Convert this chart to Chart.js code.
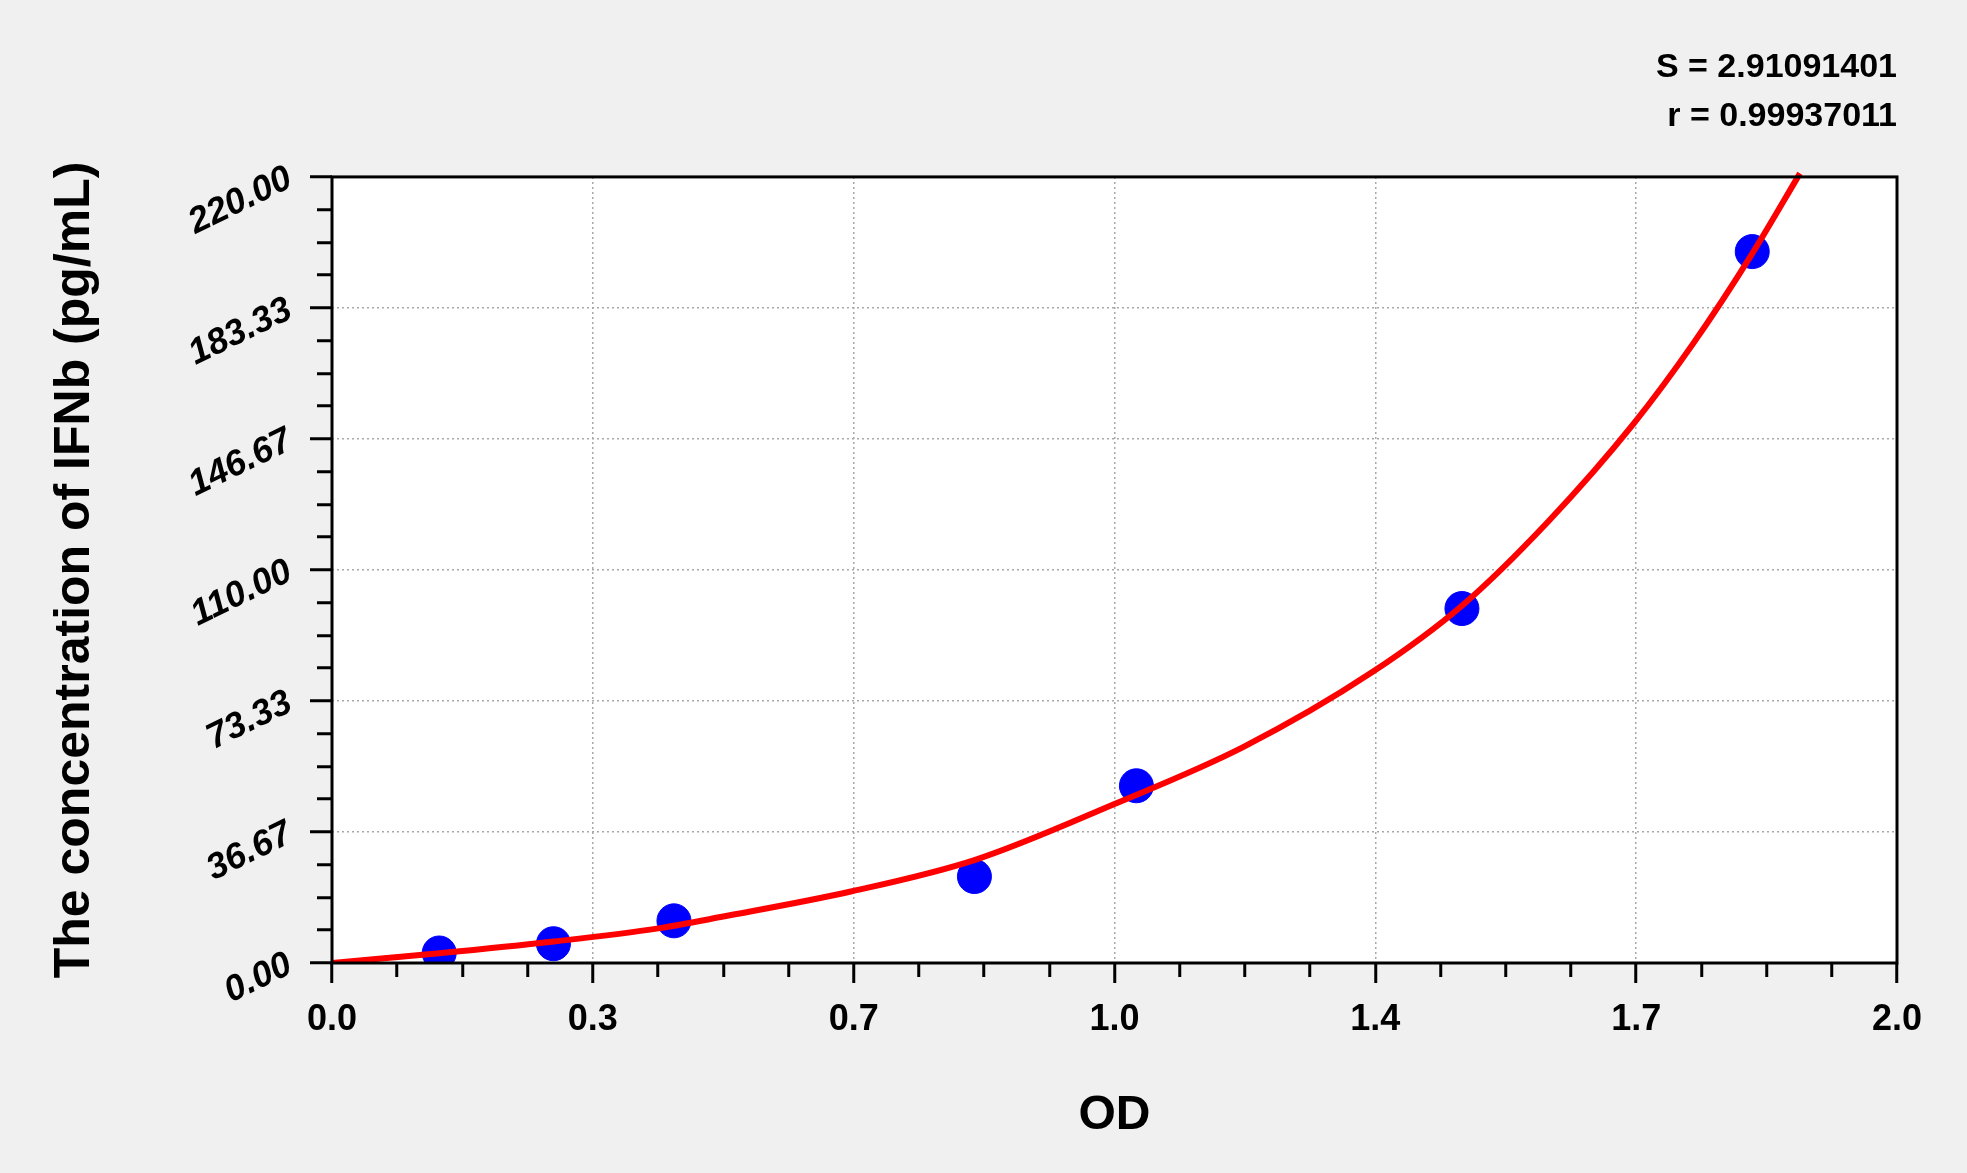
<html>
<head>
  <meta charset="UTF-8">
  <script src="https://cdn.jsdelivr.net/npm/chart.js@4.4.1/dist/chart.umd.min.js"></script>
  <style> body {padding: 0; margin: 0; background: #f0f0f0;} </style>
</head>

<body>

<canvas id="myChart" width="1967" height="1173"></canvas>

<script>

// standards (blue dots)
var stdOD   = [0.137, 0.283, 0.437, 0.821, 1.028, 1.444, 1.815];
var stdConc = [2.8, 5.4, 11.8, 24.2, 49.6, 99.2, 199.1];

// fitted curve (red line)
var fitOD   = [0.000, 0.137, 0.283, 0.417, 0.500, 0.663, 0.821, 1.000, 1.165, 1.330, 1.444, 1.554, 1.664, 1.739, 1.814, 1.876];
var fitConc = [0.0, 2.7, 6.0, 9.7, 13.0, 20.0, 28.8, 44.5, 60.5, 81.5, 100.0, 123.5, 151.1, 173.2, 198.2, 221.0];

var xTickLabels = ['0.0', '0.3', '0.7', '1.0', '1.4', '1.7', '2.0'];
var yTickLabels = ['0.00', '36.67', '73.33', '110.00', '146.67', '183.33', '220.00'];
var fitText = ['S = 2.91091401', 'r = 0.99937011'];
var xTitle = 'OD';
var yTitle = 'The concentration of IFNb (pg/mL)';
var xMax = 2;
var yMax = 220;

var FONT = "'Liberation Sans', Arial, sans-serif";

function toPoints(xs, ys) {
    return xs.map(function (x, i) { return {x: x, y: ys[i]}; });
}

// 6 major steps, each cut in 4 by minor ticks
function quarterTicks(max) {
    var t = [];
    for (var i = 0; i <= 24; i++) {
        t.push({value: max * i / 24});
    }
    return t;
}

function gridColor(c) {
    var i = c.index;
    return (i % 4 == 0 && i > 0 && i < 24) ? '#a8a8a8' : 'rgba(0,0,0,0)';
}

// white plot area + black frame
var plotFrame = {
    id: 'plotFrame',
    beforeDraw: function (chart) {
        var a = chart.chartArea, ctx = chart.ctx;
        ctx.save();
        ctx.fillStyle = '#ffffff';
        ctx.fillRect(a.left, a.top, a.right - a.left, a.bottom - a.top);
        ctx.restore();
    },
    afterDraw: function (chart) {
        var a = chart.chartArea, ctx = chart.ctx;
        ctx.save();
        ctx.strokeStyle = '#000';
        ctx.lineWidth = 3;
        ctx.strokeRect(a.left, a.top, a.right - a.left, a.bottom - a.top);
        ctx.restore();
    }
};

var ctx = document.getElementById('myChart').getContext('2d');

var myChart = new Chart(ctx, {
    type: 'scatter',
    data: {
        datasets: [{
            label: 'fit',
            data: toPoints(fitOD, fitConc),
            showLine: true,
            borderColor: '#ff0000',
            borderWidth: 6,
            pointRadius: 0,
            cubicInterpolationMode: 'monotone',
            order: 0,
            clip: {left: 0, top: 8, right: 0, bottom: 0}
        }, {
            label: 'std',
            data: toPoints(stdOD, stdConc),
            showLine: false,
            backgroundColor: '#0000ff',
            borderColor: '#0000ff',
            pointRadius: 17,
            order: 1
        }]
    },
    options: {
        responsive: false,
        animation: false,
        events: [],
        layout: {padding: {left: 0, right: 70, top: 0, bottom: 0}},
        plugins: {
            legend: {display: false},
            tooltip: {enabled: false},
            title: {
                display: true,
                text: fitText,
                align: 'end',
                color: '#000',
                font: {family: FONT, size: 34, weight: 'bold', lineHeight: 1.44},
                padding: {top: 43, bottom: 36}
            }
        },
        scales: {
            x: {
                type: 'linear',
                min: 0,
                max: xMax,
                afterBuildTicks: function (s) { s.ticks = quarterTicks(xMax); },
                afterFit: function (s) { s.height = 210; s.paddingLeft = 0; s.paddingRight = 0; },
                border: {display: false, dash: [2, 3]},
                grid: {
                    color: gridColor,
                    lineWidth: 1.5,
                    tickColor: '#000',
                    tickWidth: 3,
                    tickLength: 20,
                    tickBorderDash: function (c) { return c.index % 4 == 0 ? [] : [14, 100]; }
                },
                ticks: {
                    autoSkip: false,
                    maxRotation: 0,
                    padding: 15,
                    color: '#000',
                    font: {family: FONT, size: 36, weight: 'bold'},
                    callback: function (v, i) { return i % 4 == 0 ? xTickLabels[i / 4] : ''; }
                },
                title: {
                    display: true,
                    text: xTitle,
                    color: '#000',
                    font: {family: FONT, size: 48, weight: 'bold'},
                    padding: {top: 0, bottom: 28}
                }
            },
            y: {
                type: 'linear',
                min: 0,
                max: yMax,
                afterBuildTicks: function (s) { s.ticks = quarterTicks(yMax); },
                afterFit: function (s) { s.width = 332; s.paddingTop = 0; s.paddingBottom = 0; },
                border: {display: false, dash: [2, 3]},
                grid: {
                    color: gridColor,
                    lineWidth: 1.5,
                    tickColor: '#000',
                    tickWidth: 3,
                    tickLength: 22,
                    tickBorderDash: function (c) { return c.index % 4 == 0 ? [] : [0, 7, 15, 100]; }
                },
                ticks: {
                    autoSkip: false,
                    minRotation: 26,
                    maxRotation: 26,
                    padding: 20,
                    color: '#000',
                    font: {family: FONT, size: 36, weight: 'bold', style: 'italic'},
                    callback: function (v, i) { return i % 4 == 0 ? yTickLabels[i / 4] : ''; }
                },
                title: {
                    display: true,
                    text: yTitle,
                    color: '#000',
                    font: {family: FONT, size: 50, weight: 'bold'},
                    padding: {top: 45, bottom: 0}
                }
            }
        }
    },
    plugins: [plotFrame]
});

</script>
</body>
</html>
